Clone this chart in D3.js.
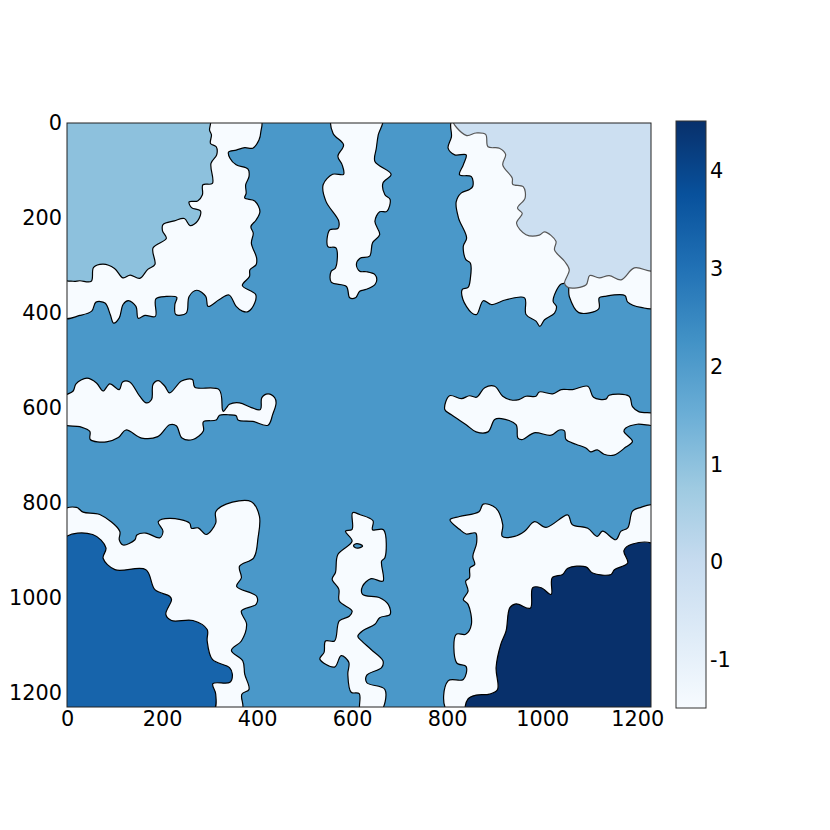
<!DOCTYPE html>
<html>
<head>
<meta charset="utf-8">
<script src="https://cdnjs.cloudflare.com/ajax/libs/d3/7.8.5/d3.min.js"></script>
<style>
html, body { margin: 0; padding: 0; background: #ffffff; }
text { font-family: "DejaVu Sans"; fill: #000000; }
</style>
</head>
<body>
<div id="vis"></div>
<script>
// colormap + ticks
var blues = ["#f7fbff", "#deebf7", "#c6dbef", "#9ecae1", "#6baed6", "#4292c6", "#2171b5", "#08519c", "#08306b"];
var xTicks = [0, 200, 400, 600, 800, 1000, 1200];
var yTicks = [0, 200, 400, 600, 800, 1000, 1200];
var cbTicks = [-1, 0, 1, 2, 3, 4];
var imageSize = 1229;
var valueRange = [-1.5, 4.5];

// field values
var centerValue = 2.1;
var gapValue = -1.5;
var topLeftValue = 1;
var topRightValue = -0.2;
var bottomLeftValue = 3.3;
var bottomRightValue = 4.5;

// outlines in image coordinates (col,row)
var gapTopLeft = [[-9,-9],[407,-9],[408,18],[404,36],[391,53],[374,52],[356,57],[340,61],[343,74],[356,88],[381,97],[383,113],[376,130],[377,148],[374,158],[395,164],[406,186],[398,204],[387,218],[392,232],[388,253],[399,284],[398,298],[385,309],[384,323],[369,342],[397,361],[395,379],[381,397],[369,396],[356,386],[341,362],[320,372],[297,386],[292,365],[273,352],[257,365],[251,400],[229,403],[227,382],[231,367],[209,365],[187,370],[186,407],[164,405],[150,411],[145,386],[129,374],[118,382],[110,410],[98,421],[91,403],[80,379],[61,377],[52,396],[27,405],[-9,409]];
var gapTopMiddle = [[558,-9],[560,22],[582,46],[570,70],[579,88],[582,108],[559,108],[539,130],[545,165],[572,207],[570,222],[553,225],[549,260],[566,263],[565,305],[556,312],[556,335],[588,344],[595,368],[608,367],[616,354],[630,350],[648,340],[652,330],[648,319],[630,313],[616,312],[609,298],[616,285],[637,280],[643,252],[658,235],[648,207],[658,187],[673,186],[680,161],[669,151],[665,126],[682,108],[648,81],[651,53],[655,25],[664,-9]];
var gapTopRight = [[812,-9],[809,29],[802,53],[816,67],[840,67],[834,88],[826,109],[851,113],[854,133],[847,140],[830,147],[819,166],[824,200],[841,242],[834,259],[839,287],[849,295],[849,326],[844,346],[832,350],[833,371],[851,399],[862,403],[876,374],[893,382],[924,372],[963,368],[966,403],[987,417],[995,428],[1005,414],[1026,400],[1030,386],[1023,375],[1040,339],[1054,340],[1057,365],[1077,399],[1119,391],[1120,368],[1131,365],[1174,363],[1180,377],[1208,388],[1240,387],[1240,-9]];
var gapLeftMiddle = [[-9,578],[13,564],[19,549],[42,537],[62,547],[76,564],[90,549],[110,561],[117,545],[132,545],[153,575],[167,589],[178,582],[181,550],[192,542],[206,554],[216,568],[241,543],[264,540],[269,556],[320,561],[327,603],[329,607],[335,600],[342,592],[363,589],[388,599],[407,603],[410,578],[423,570],[437,578],[440,589],[433,613],[423,636],[391,628],[360,625],[356,616],[339,614],[321,615],[314,625],[287,629],[287,648],[265,666],[242,663],[230,637],[216,635],[191,660],[157,663],[124,646],[108,662],[83,671],[49,666],[48,649],[27,639],[-9,633]];
var gapRightMiddle = [[795,603],[805,574],[830,580],[847,574],[862,577],[879,557],[900,554],[917,575],[935,583],[951,582],[966,575],[987,575],[994,566],[1022,570],[1040,561],[1064,561],[1096,554],[1108,577],[1134,581],[1141,573],[1183,575],[1190,597],[1204,608],[1240,613],[1240,635],[1200,634],[1176,642],[1172,649],[1190,670],[1176,682],[1151,699],[1130,697],[1116,688],[1102,692],[1092,684],[1071,676],[1050,666],[1047,648],[1036,646],[1019,657],[983,652],[959,666],[949,663],[945,635],[914,622],[900,624],[886,650],[861,650],[840,635],[809,614]];
var gapBottomLeft = [[-9,817],[20,809],[34,819],[69,824],[111,859],[110,877],[118,888],[143,877],[147,867],[166,863],[195,873],[202,859],[192,839],[216,832],[258,842],[262,853],[276,852],[293,866],[313,842],[313,818],[335,802],[388,797],[405,828],[402,873],[393,915],[363,933],[367,957],[357,975],[399,996],[398,1013],[367,1027],[378,1055],[367,1090],[346,1110],[370,1132],[374,1160],[383,1192],[368,1202],[367,1240],[-9,1240]];
var gapBottomMiddle = [[601,820],[600,855],[586,859],[600,880],[570,908],[565,946],[558,960],[572,981],[573,1006],[600,1027],[594,1038],[573,1048],[563,1090],[544,1090],[541,1114],[532,1128],[563,1145],[577,1121],[593,1135],[591,1160],[598,1198],[615,1201],[618,1240],[659,1240],[669,1192],[631,1178],[631,1162],[662,1146],[665,1132],[640,1108],[620,1090],[612,1080],[623,1068],[648,1055],[658,1041],[680,1034],[676,1013],[658,999],[622,992],[622,975],[640,959],[665,964],[662,922],[669,915],[666,856],[643,856],[644,837],[616,824]];
var gapBottomRight = [[1240,806],[1204,810],[1190,817],[1180,852],[1166,859],[1155,877],[1127,859],[1116,870],[1096,853],[1063,845],[1054,825],[1008,851],[984,839],[963,859],[942,870],[916,870],[917,845],[902,810],[876,802],[867,818],[826,828],[806,835],[826,855],[840,865],[860,863],[862,884],[854,912],[858,929],[848,936],[847,957],[839,964],[844,985],[834,1003],[844,1013],[851,1055],[839,1076],[819,1076],[820,1136],[840,1144],[834,1171],[802,1174],[802,1240],[1240,1240]];
var pocket = [[603,889],[610,885],[622,890],[615,894],[607,894]];
var cornerTopLeft = [[-9,-9],[300,-9],[300,15],[304,25],[302,43],[314,50],[315,67],[303,85],[306,127],[286,130],[285,151],[275,164],[257,166],[262,178],[281,185],[275,206],[259,216],[247,201],[226,206],[202,214],[201,227],[209,243],[181,263],[185,298],[170,308],[153,327],[133,320],[118,326],[100,306],[76,297],[56,304],[51,333],[27,332],[13,333],[-9,327]];
var cornerTopRight = [[812,-9],[840,26],[861,21],[881,24],[886,50],[910,53],[923,66],[917,88],[937,116],[938,129],[960,134],[964,158],[948,179],[958,190],[946,211],[966,235],[994,236],[1005,229],[1029,249],[1026,267],[1047,291],[1057,309],[1047,337],[1054,346],[1092,341],[1100,321],[1120,326],[1141,321],[1166,330],[1194,305],[1240,309],[1240,-9]];
var cornerBottomLeft = [[-9,877],[54,866],[82,894],[76,916],[101,940],[166,940],[185,982],[216,996],[220,1003],[208,1034],[220,1047],[265,1047],[295,1066],[295,1090],[306,1129],[342,1146],[348,1160],[343,1177],[307,1180],[313,1202],[306,1240],[-9,1240]];
var cornerBottomRight = [[1240,891],[1190,886],[1172,900],[1180,926],[1152,940],[1145,950],[1106,947],[1092,934],[1054,937],[1043,950],[1021,957],[1019,992],[998,978],[980,978],[975,1021],[945,1012],[932,1020],[924,1069],[913,1097],[903,1146],[906,1192],[889,1202],[861,1204],[844,1212],[841,1240],[1240,1240]];

var width = 830;
var height = 830;

function init(){

  var plot = {left: 67, right: 651, top: 123, bottom: 707};
  var bar = {left: 676, right: 706, top: 121, bottom: 708};

  var chart = d3.select('#vis').append('svg')
        .attr("width", width)
        .attr("height", height)
        .style("display", "block");

  var x = d3.scaleLinear().domain([0, imageSize]).range([plot.left, plot.right]);
  var y = d3.scaleLinear().domain([0, imageSize]).range([plot.top, plot.bottom]);
  var cbScale = d3.scaleLinear().domain(valueRange).range([bar.bottom, bar.top]);

  var colorStops = blues.map(function(d, i){ return valueRange[0] + i * (valueRange[1] - valueRange[0]) / (blues.length - 1); });
  var color = d3.scaleLinear().domain(colorStops).range(blues);

  var defs = chart.append("defs");
  defs.append("clipPath").attr("id", "plotClip")
      .append("rect")
      .attr("x", plot.left).attr("y", plot.top)
      .attr("width", plot.right - plot.left).attr("height", plot.bottom - plot.top);

  var grad = defs.append("linearGradient").attr("id", "cbGrad")
      .attr("x1", 0).attr("y1", 1).attr("x2", 0).attr("y2", 0);
  grad.selectAll("stop").data(blues).enter().append("stop")
      .attr("offset", function(d, i){ return i / (blues.length - 1); })
      .attr("stop-color", function(d){ return d; });

  var regions = [
    {pts: gapTopLeft, v: gapValue},
    {pts: gapTopMiddle, v: gapValue},
    {pts: gapTopRight, v: gapValue},
    {pts: gapLeftMiddle, v: gapValue},
    {pts: gapRightMiddle, v: gapValue},
    {pts: gapBottomLeft, v: gapValue},
    {pts: gapBottomMiddle, v: gapValue},
    {pts: gapBottomRight, v: gapValue},
    {pts: pocket, v: centerValue},
    {pts: cornerTopLeft, v: topLeftValue},
    {pts: cornerTopRight, v: topRightValue},
    {pts: cornerBottomLeft, v: bottomLeftValue},
    {pts: cornerBottomRight, v: bottomRightValue}
  ];

  var line = d3.line()
      .x(function(d){ return x(d[0]); })
      .y(function(d){ return y(d[1]); })
      .curve(d3.curveCatmullRomClosed.alpha(0.5));

  var field = chart.append("g").attr("clip-path", "url(#plotClip)");

  field.append("rect")
      .attr("x", x(0)).attr("y", y(0))
      .attr("width", x(imageSize) - x(0)).attr("height", y(imageSize) - y(0))
      .attr("fill", color(centerValue));

  field.selectAll("path").data(regions).enter().append("path")
      .attr("d", function(d){ return line(d.pts); })
      .attr("fill", function(d){ return color(d.v); })
      .attr("stroke", function(d){ return d.v == topRightValue ? "#555555" : "#000000"; })
      .attr("stroke-width", 1.2)
      .attr("stroke-linejoin", "round");

  // axes, no tick marks in the original
  var plain = d3.format("d");
  var xAxis = d3.axisBottom(x).tickValues(xTicks).tickSize(0).tickPadding(4).tickFormat(plain);
  var yAxis = d3.axisLeft(y).tickValues(yTicks).tickSize(0).tickPadding(5).tickFormat(plain);
  var cAxis = d3.axisRight(cbScale).tickValues(cbTicks).tickSize(0).tickPadding(4).tickFormat(plain);

  var gx = chart.append("g").attr("transform", "translate(0," + plot.bottom + ")").call(xAxis);
  var gy = chart.append("g").attr("transform", "translate(" + plot.left + ",0)").call(yAxis);

  chart.append("rect")
      .attr("x", plot.left).attr("y", plot.top)
      .attr("width", plot.right - plot.left).attr("height", plot.bottom - plot.top)
      .attr("fill", "none").attr("stroke", "#222222").attr("stroke-width", 1);

  chart.append("rect")
      .attr("x", bar.left).attr("y", bar.top)
      .attr("width", bar.right - bar.left).attr("height", bar.bottom - bar.top)
      .attr("fill", "url(#cbGrad)").attr("stroke", "#333333").attr("stroke-width", 1);

  var gc = chart.append("g").attr("transform", "translate(" + bar.right + ",1)").call(cAxis);

  [gx, gy, gc].forEach(function(g){
    g.select(".domain").remove();
    g.selectAll("text")
      .style("font-family", '"DejaVu Sans"')
      .style("font-size", "20.8px")
      .attr("fill", "#000000");
  });
  // d3 uses a real minus; the figure has a plain hyphen
  gc.selectAll("text").text(function(d){ return String(d); });
}

init();
</script>
</body>
</html>
